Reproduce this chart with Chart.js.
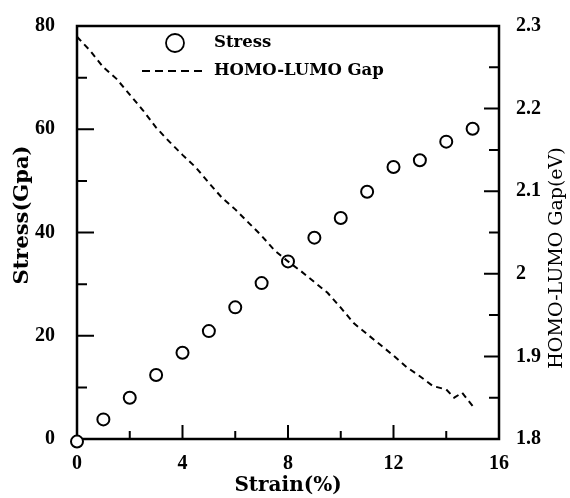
<!DOCTYPE html>
<html>
<head>
<meta charset="utf-8">
<script src="https://cdn.jsdelivr.net/npm/chart.js@4.4.1/dist/chart.umd.min.js"></script>
<style>
  html, body { margin: 0; padding: 0; background: #fff; }
  #wrap { width: 570px; height: 498px; }
</style>
</head>
<body>
<div id="wrap"><canvas id="chart"></canvas></div>
<script>
  const strain = [0, 1, 2, 3, 4, 5, 6, 7, 8, 9, 10, 11, 12, 13, 14, 15];
  const stress = [-0.5, 3.8, 8.0, 12.4, 16.7, 20.9, 25.5, 30.2, 34.4, 39.0, 42.8, 47.9, 52.7, 54.0, 57.6, 60.1];

  const gapStrain = [0, 0.5, 1, 1.5, 2, 2.5, 3, 3.5, 4, 4.5, 5, 5.5, 6, 6.5, 7, 7.5, 8, 8.5,
    9, 9.5, 10, 10.5, 11, 11.5, 12, 12.5, 13, 13.5, 14, 14.3, 14.6, 15];
  const gapValues = [2.287, 2.270, 2.250, 2.236, 2.217, 2.198, 2.177, 2.160, 2.144, 2.129, 2.110, 2.092,
    2.078, 2.062, 2.046, 2.028, 2.015, 2.003, 1.990, 1.977, 1.959, 1.940, 1.927, 1.914, 1.901, 1.887,
    1.876, 1.864, 1.860, 1.850, 1.856, 1.840];

  const xTitle = 'Strain(%)';
  const yTitle = 'Stress(Gpa)';
  const y1Title = 'HOMO-LUMO Gap(eV)';

  const serif = '"DejaVu Serif", serif';
  const tickFont = { family: '"Liberation Serif", serif', size: 20, weight: 'bold' };
  const gapDash = [6, 4.5];

  // inward ticks, titles and legend are drawn by hand
  const framePlugin = {
    id: 'frame',
    beforeDatasetsDraw(chart) {
      const { ctx, chartArea: a, scales } = chart;
      ctx.save();
      ctx.strokeStyle = '#000';
      ctx.lineWidth = 2.5;
      ctx.strokeRect(a.left, a.top, a.right - a.left, a.bottom - a.top);

      ctx.lineWidth = 2;
      ctx.beginPath();
      scales.x.ticks.forEach(t => {
        const px = scales.x.getPixelForValue(t.value);
        const len = t.value % 4 === 0 ? 14 : 8;
        ctx.moveTo(px, a.bottom);
        ctx.lineTo(px, a.bottom - len);
      });
      scales.y.ticks.forEach(t => {
        const py = scales.y.getPixelForValue(t.value);
        const len = t.value % 20 === 0 ? 17 : 10;
        ctx.moveTo(a.left, py);
        ctx.lineTo(a.left + len, py);
      });
      scales.y1.ticks.forEach(t => {
        const py = scales.y1.getPixelForValue(t.value);
        const len = Math.round(t.value * 100) % 10 === 0 ? 15 : 10;
        ctx.moveTo(a.right, py);
        ctx.lineTo(a.right - len, py);
      });
      ctx.stroke();
      ctx.restore();
    },
    afterDraw(chart) {
      const { ctx } = chart;
      const [stressSet, gapSet] = chart.data.datasets;
      ctx.save();
      ctx.fillStyle = '#000';
      ctx.textBaseline = 'middle';

      // axis titles
      ctx.textAlign = 'center';
      ctx.font = 'bold 20px ' + serif;
      ctx.fillText(xTitle, 288, 486);

      ctx.save();
      ctx.translate(23, 215);
      ctx.rotate(-Math.PI / 2);
      ctx.font = 'bold 21px ' + serif;
      ctx.fillText(yTitle, 0, 0);
      ctx.restore();

      ctx.save();
      ctx.translate(557, 258);
      ctx.rotate(-Math.PI / 2);
      ctx.font = '19px ' + serif;
      ctx.fillText(y1Title, 0, 0);
      ctx.restore();

      // legend
      ctx.strokeStyle = '#000';
      ctx.lineWidth = 1.8;
      ctx.beginPath();
      ctx.arc(175, 43, 9, 0, Math.PI * 2);
      ctx.stroke();

      ctx.lineWidth = 2;
      ctx.setLineDash([8, 5]);
      ctx.beginPath();
      ctx.moveTo(142, 71);
      ctx.lineTo(204, 71);
      ctx.stroke();
      ctx.setLineDash([]);

      ctx.textAlign = 'left';
      ctx.font = 'bold 16.5px ' + serif;
      ctx.fillText(stressSet.label, 214, 43);
      ctx.fillText(gapSet.label, 214, 71);
      ctx.restore();
    }
  };

  new Chart(document.getElementById('chart').getContext('2d'), {
    type: 'scatter',
    data: {
      datasets: [
        {
          label: 'Stress',
          data: strain.map((s, i) => ({ x: s, y: stress[i] })),
          yAxisID: 'y',
          pointStyle: 'circle',
          pointRadius: 6,
          pointBorderWidth: 2,
          pointBorderColor: '#000',
          pointBackgroundColor: '#fff',
          showLine: false,
          clip: false,
          order: 2
        },
        {
          label: 'HOMO-LUMO Gap',
          data: gapStrain.map((s, i) => ({ x: s, y: gapValues[i] })),
          yAxisID: 'y1',
          showLine: true,
          borderColor: '#000',
          borderWidth: 2,
          borderDash: gapDash,
          pointRadius: 0,
          tension: 0,
          order: 1
        }
      ]
    },
    options: {
      responsive: true,
      maintainAspectRatio: false,
      animation: false,
      layout: { padding: { top: 18, left: 0, right: 0, bottom: 0 } },
      plugins: {
        legend: { display: false },
        tooltip: { enabled: false }
      },
      scales: {
        x: {
          type: 'linear',
          min: 0,
          max: 16,
          grid: { display: false },
          border: { display: false },
          afterFit: s => { s.height = 59; },
          ticks: {
            stepSize: 2,
            padding: 5,
            maxRotation: 0,
            autoSkip: false,
            color: '#000',
            font: tickFont,
            callback: v => (v % 4 === 0 ? v : '')
          }
        },
        y: {
          position: 'left',
          min: 0,
          max: 80,
          grid: { display: false },
          border: { display: false },
          afterFit: s => { s.width = 77; },
          ticks: {
            stepSize: 10,
            padding: 14,
            autoSkip: false,
            color: '#000',
            font: tickFont,
            callback: v => (v % 20 === 0 ? v : '')
          }
        },
        y1: {
          position: 'right',
          min: 1.8,
          max: 2.3,
          grid: { display: false },
          border: { display: false },
          afterFit: s => { s.width = 71; },
          ticks: {
            stepSize: 0.05,
            padding: 9,
            autoSkip: false,
            color: '#000',
            font: tickFont,
            callback: v => {
              const r = Math.round(v * 100);
              return r % 10 === 0 ? String(r / 100) : '';
            }
          }
        }
      }
    },
    plugins: [framePlugin]
  });
</script>
</body>
</html>
